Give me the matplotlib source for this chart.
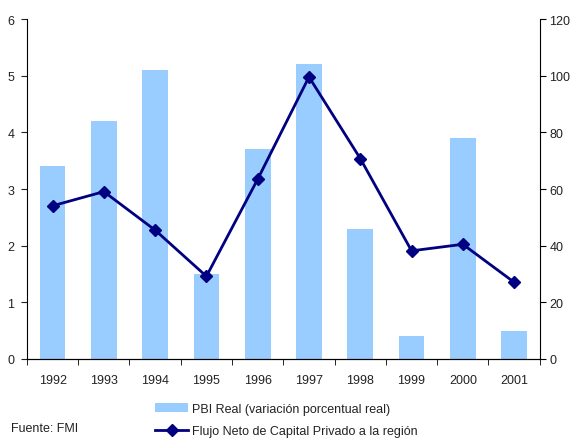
import numpy as np
import matplotlib.pyplot as plt

plt.rcParams['font.family'] = ['Liberation Sans', 'DejaVu Sans']

years = ['1992', '1993', '1994', '1995', '1996', '1997', '1998', '1999', '2000', '2001']
pbi_real = [3.4, 4.2, 5.1, 1.5, 3.7, 5.2, 2.3, 0.4, 3.9, 0.5]
flujo_neto = [54.1, 59.1, 45.5, 29.2, 63.5, 99.6, 70.8, 38.2, 40.5, 27.1]

bar_color = '#99CCFF'
line_color = '#000080'
text_color = '#222222'
fs = 9

fig = plt.figure(figsize=(5.73, 4.39), dpi=100)
ax = fig.add_axes([0.047, 0.18, 0.895, 0.774])
x = np.arange(len(years))

bars = ax.bar(x, pbi_real, width=0.5, color=bar_color, zorder=2,
              label='PBI Real (variación porcentual real)')
ax.set_xlim(-0.5, len(years) - 0.5)
ax.set_ylim(0, 6)
ax.set_yticks(range(0, 7))
ax.set_xticks(x)
ax.set_xticklabels(years)
ax.set_xticks(np.arange(-0.5, len(years)), minor=True)
ax.tick_params(axis='x', which='major', length=0, pad=11, labelsize=fs, colors=text_color)
ax.tick_params(axis='x', which='minor', length=4, direction='out', color='black')
ax.tick_params(axis='y', length=4, direction='out', labelsize=fs, pad=5, colors=text_color)
for t in ax.get_xticklines(minor=True) + ax.get_yticklines():
    t.set_color('black')
ax.spines['top'].set_visible(False)
ax.spines['right'].set_visible(False)

ax2 = ax.twinx()
line, = ax2.plot(x, flujo_neto, color=line_color, linewidth=2, marker='D',
                 markersize=6, zorder=3,
                 label='Flujo Neto de Capital Privado a la región')
ax2.set_ylim(0, 120)
ax2.set_yticks(range(0, 121, 20))
ax2.tick_params(axis='y', length=4, direction='out', labelsize=fs, pad=3, labelcolor=text_color)
ax2.spines['top'].set_visible(False)
ax2.spines['left'].set_visible(False)

fig.legend(handles=[bars, line], loc='upper left', bbox_to_anchor=(0.27, 0.08),
           frameon=False, fontsize=fs, handlelength=2.7, handletextpad=0.3,
           labelspacing=0.8, borderaxespad=0, borderpad=0, labelcolor=text_color)
fig.text(0.02, 0.016, 'Fuente: FMI', fontsize=fs, color=text_color)

fig.savefig('out.png', dpi=100)
